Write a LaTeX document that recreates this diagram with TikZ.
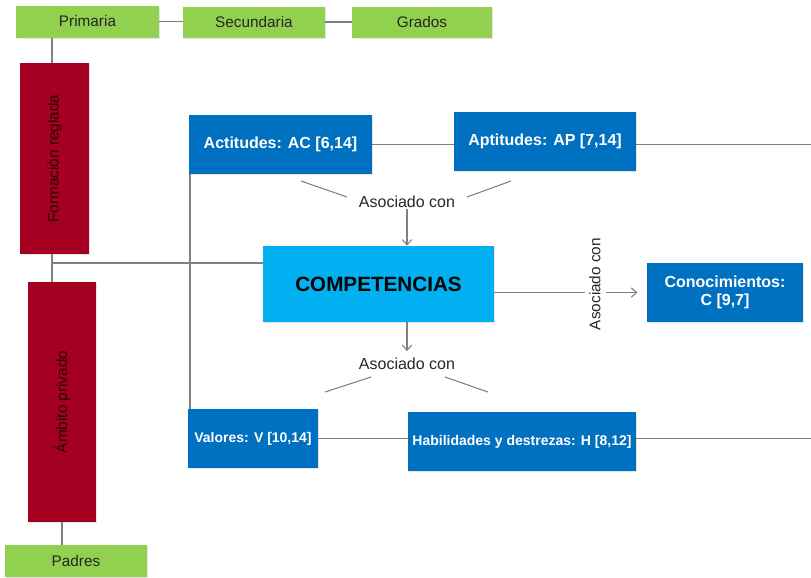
\documentclass[tikz,border=0pt]{standalone}
\usepackage{fontspec}
\setmainfont{Liberation Sans}
\usetikzlibrary{arrows.meta,shadows}
\definecolor{cgreen}{HTML}{92D050}
\definecolor{cred}{HTML}{A50021}
\definecolor{credtext}{HTML}{2A0508}
\definecolor{cblue}{HTML}{0070C0}
\definecolor{clight}{HTML}{00B0F0}
\definecolor{cline}{HTML}{808080}
\definecolor{ctext}{HTML}{262626}
\begin{document}
\begin{tikzpicture}[x=0.75pt,y=-0.75pt,
  box/.style={rectangle, inner sep=0pt, align=center,
    drop shadow={shadow xshift=1pt,shadow yshift=-1pt,opacity=0.2}},
  greenbox/.style={box, fill=cgreen, text=ctext, font=\fontsize{11.5}{13}\selectfont},
  redbox/.style={box, fill=cred, text=credtext, font=\fontsize{11.5}{13}\selectfont, rotate=90},
  bluebox/.style={box, fill=cblue, text=white, font=\fontsize{12}{14}\selectfont\bfseries},
  conn/.style={draw=cline, line width=0.8pt},
  arr/.style={conn, -{Straight Barb[length=4pt,width=7pt]}},
  lbl/.style={font=\fontsize{12}{14}\selectfont, text=ctext, inner sep=1pt}]
\useasboundingbox (0,0) rectangle (811,578);

% green boxes
\node[greenbox, minimum width=107.25pt, minimum height=24pt] (prim) at (87.5,21.5) {Primaria};
\node[greenbox, minimum width=106.5pt, minimum height=23.25pt] (secu) at (254,22) {Secundaria};
\node[greenbox, minimum width=105pt, minimum height=23.25pt] (grad) at (422,22) {Grados};
\node[greenbox, minimum width=106.5pt, minimum height=24pt] (padr) at (76,561) {Padres};

% red boxes
\node[redbox, minimum width=143.25pt, minimum height=51.75pt] (form) at (54.5,158.5) {Formación reglada};
\node[redbox, minimum width=180pt, minimum height=51pt] (ambi) at (62,402) {Ámbito privado};

% blue boxes
\node[bluebox, minimum width=137.25pt, minimum height=44.25pt] (acti) at (280.5,144.5) {Actitudes: AC [6,14]};
\node[bluebox, minimum width=136.5pt, minimum height=44.25pt] (apti) at (545,141.5) {Aptitudes: AP [7,14]};
\node[box, fill=clight, text=black, font=\fontsize{15.5}{17}\selectfont\bfseries,
      minimum width=173.25pt, minimum height=57pt] (comp) at (378.5,284) {COMPETENCIAS};
\node[bluebox, minimum width=117pt, minimum height=44.25pt] (cono) at (725,292.5) {Conocimientos:\\C [9,7]};
\node[bluebox, font=\fontsize{10.5}{12}\selectfont\bfseries, minimum width=97.5pt, minimum height=44.25pt] (valo) at (253,438.5) {Valores: V [10,14]};
\node[bluebox, font=\fontsize{10.5}{12}\selectfont\bfseries, minimum width=171pt, minimum height=44.25pt] (habi) at (522,441.5) {Habilidades y destrezas: H [8,12]};

% labels
\node[lbl] (as1) at (407,202) {Asociado con};
\node[lbl] (as2) at (407,364) {Asociado con};
\node[lbl, font=\fontsize{11.5}{13}\selectfont, rotate=90] (as3) at (595,284) {Asociado con};

% helper coordinates
\coordinate (jf) at (52,263);
\coordinate (jv) at (190,263);
\coordinate (re) at (811,0);
\coordinate (a1) at (301,181); \coordinate (a2) at (347,197);
\coordinate (a3) at (467,197); \coordinate (a4) at (511,181);
\coordinate (b1) at (325,392); \coordinate (b2) at (371,377);
\coordinate (b3) at (445,377); \coordinate (b4) at (488,392);

% connectors
\draw[conn] (prim.east) -- (prim.east -| secu.west);
\draw[conn] (secu.east) -- (grad.west);
\draw[conn] (jf |- prim.south) -- (jf |- form.east);
\draw[conn] (jf |- form.west) -- (jf |- ambi.east);
\draw[conn] (jf) -- (jf -| comp.west);
\draw[conn] (ambi.west) -- (ambi.west |- padr.north);
\draw[conn] (jv |- acti.south) -- (jv |- valo.north);
\draw[conn] (acti.east) -- (acti.east -| apti.west);
\draw[conn] (apti.east |- acti.east) -- (re |- acti.east);
\draw[conn] (valo.east) -- (valo.east -| habi.west);
\draw[conn] (habi.east |- valo.east) -- (re |- valo.east);
\draw[conn] (a1) -- (a2);
\draw[conn] (a3) -- (a4);
\draw[conn] (b1) -- (b2);
\draw[conn] (b3) -- (b4);
\draw[arr] (as1.south) -- (as1.south |- comp.north);
\draw[arr] (as2.north |- comp.south) -- ([yshift=4pt]as2.north);
\draw[conn] (comp.east |- cono.west) -- ([xshift=-2pt]as3.north |- cono.west);
\draw[arr, shorten >=7pt] ([xshift=3pt]as3.south |- cono.west) -- (cono.west);
\end{tikzpicture}
\end{document}
